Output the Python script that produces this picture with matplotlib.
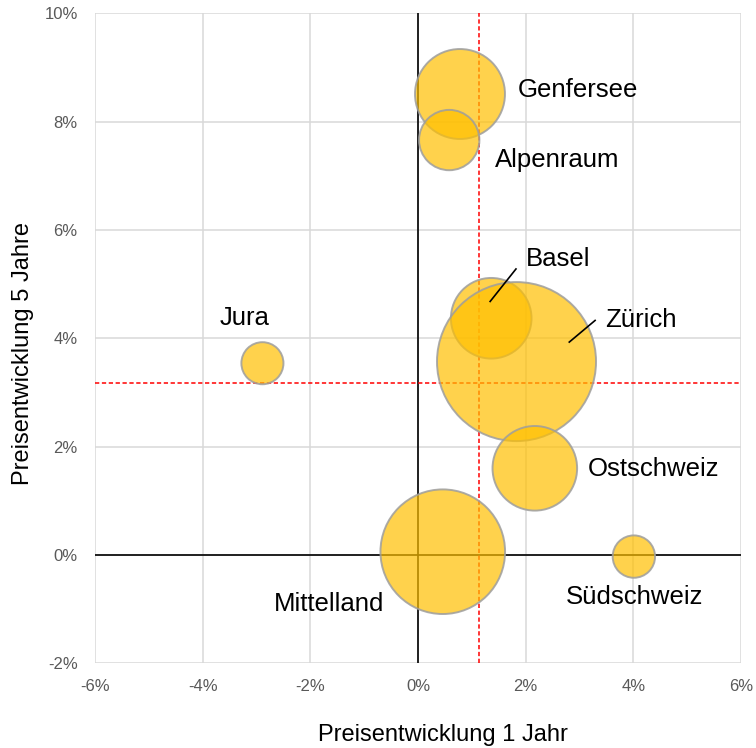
import matplotlib
matplotlib.use("Agg")
import matplotlib.pyplot as plt
from matplotlib.ticker import FuncFormatter

plt.rcParams['font.family'] = ['Liberation Sans', 'DejaVu Sans']

# ---- data ----
regions = ["Genfersee", "Alpenraum", "Basel", "Zürich", "Jura",
           "Ostschweiz", "Mittelland", "Südschweiz"]
change_1y = [0.78, 0.58, 1.36, 1.83, -2.89, 2.17, 0.46, 4.01]   # %
change_5y = [8.51, 7.66, 4.37, 3.57, 3.54, 1.60, 0.06, -0.03]   # %
bubble_size = [32.0, 14.4, 25.7, 100.0, 7.0, 28.3, 61.4, 7.1]  # relative size
avg_1y = 1.13   # % (red dashed vertical)
avg_5y = 3.17   # % (red dashed horizontal)

x_ticks = [-6, -4, -2, 0, 2, 4, 6]
y_ticks = [-2, 0, 2, 4, 6, 8, 10]

# ---- style / layout ----
SIZE_SCALE = 131.1  # points^2 per size unit
label_offsets = {  # label anchor in data coords (style), alignment
    "Genfersee": (1.86, 8.58, 'left'),
    "Alpenraum": (1.43, 7.29, 'left'),
    "Basel": (2.00, 5.46, 'left'),
    "Zürich": (3.47, 4.33, 'left'),
    "Jura": (-3.23, 4.38, 'center'),
    "Ostschweiz": (3.16, 1.58, 'left'),
    "Mittelland": (-2.67, -0.90, 'left'),
    "Südschweiz": (2.75, -0.78, 'left'),
}
leaders = {
    "Basel": ((1.34, 4.68), (1.82, 5.28)),
    "Zürich": ((2.81, 3.93), (3.29, 4.33)),
}

fig = plt.figure(figsize=(7.56, 7.48), dpi=100)
ax = fig.add_axes([95/756, 1 - 663.3/748, (741-95)/756, (663.3-13.3)/748])

ax.set_xlim(x_ticks[0], x_ticks[-1])
ax.set_ylim(y_ticks[0], y_ticks[-1])
ax.set_xticks(x_ticks)
ax.set_yticks(y_ticks)
fmt = FuncFormatter(lambda v, p: f"{v:.0f}%")
ax.xaxis.set_major_formatter(fmt)
ax.yaxis.set_major_formatter(fmt)
ax.tick_params(length=0, labelsize=12, colors='#595959')
ax.tick_params(axis='x', pad=11)
ax.tick_params(axis='y', pad=12.5)
for s in ax.spines.values():
    s.set_visible(False)
ax.grid(True, color='#D9D9D9', lw=1.1, zorder=0)
ax.set_axisbelow(True)

ax.axhline(0, color='black', lw=1.2, zorder=1)
ax.axvline(0, color='black', lw=1.2, zorder=1)
ax.axvline(avg_1y, color='#FF0000', lw=1.1, ls=(0, (2.8, 1.7)), zorder=1.5)
ax.axhline(avg_5y, color='#FF0000', lw=1.1, ls=(0, (2.8, 1.7)), zorder=1.5)

ax.scatter(change_1y, change_5y, s=[b * SIZE_SCALE for b in bubble_size],
           facecolor=(1.0, 0.753, 0.0, 0.7), edgecolor=(0.62, 0.62, 0.62, 0.85),
           linewidth=1.4, zorder=3)

for name in regions:
    lx, ly, ha = label_offsets[name]
    ax.text(lx, ly, name, fontsize=18.5, ha=ha, va='center', color='black', zorder=5)
for name, (p0, p1) in leaders.items():
    ax.plot([p0[0], p1[0]], [p0[1], p1[1]], color='black', lw=1.2, zorder=5)

fig.text(442.5/756, 1 - 735/748, "Preisentwicklung 1 Jahr", fontsize=17,
         ha='center', va='center')
fig.text(22.7/756, 1 - 353.5/748, "Preisentwicklung 5 Jahre", fontsize=17,
         ha='center', va='center', rotation=90)

fig.savefig("out.png", dpi=100)
